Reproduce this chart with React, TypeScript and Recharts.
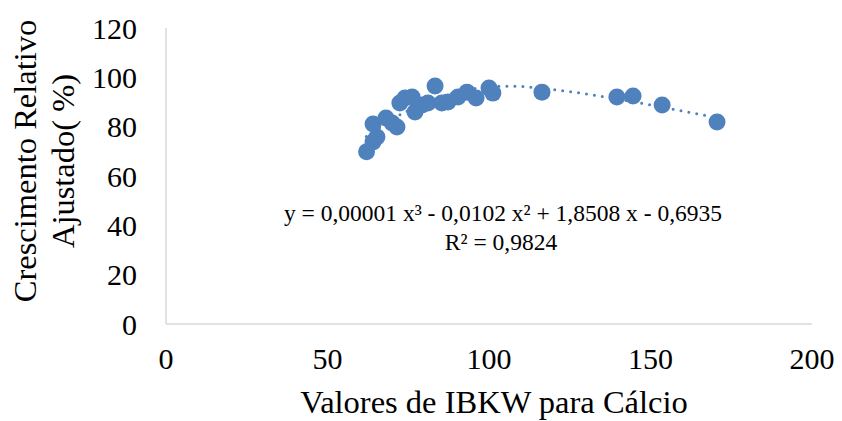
import { ComposedChart, Scatter, Line, XAxis, YAxis } from "recharts"

// observed points (IBKW x, crescimento relativo y)
const ibkw = [62.1, 64.1, 65.3, 64.1, 68.1, 70, 71.5, 72.4, 74, 76.2, 77.1, 79.3, 81.1, 83.3, 85.4, 87.3, 90.4, 93.2, 96, 100, 101.2, 116.4, 139.6, 144.6, 153.6, 170.6]
const crescimento = [69.8, 73.8, 75.8, 81.1, 83.5, 81.5, 79.9, 89.6, 91.6, 92, 85.9, 88.8, 89.6, 96.5, 89.6, 90, 92, 94, 91.6, 95.7, 93.6, 94, 92, 92.4, 88.8, 81.9]

// trend line
const trendX = [62, 66, 70, 75, 80, 85, 90, 95, 100, 105, 110, 115, 120, 130, 140, 150, 160, 170.6]
const trendY = [76, 79.5, 83, 86.5, 89.5, 92, 94, 95.3, 96.1, 96.4, 96.3, 95.7, 95, 93.3, 91.2, 88.8, 86.3, 83.6]

const xTicks = [0, 50, 100, 150, 200]
const yTicks = [0, 20, 40, 60, 80, 100, 120]

const points = ibkw.map((x, i) => ({ x, y: crescimento[i] }))
const trend = trendX.map((x, i) => ({ x, y: trendY[i] }))

const blue = "#4f81bd"
const font = "'Liberation Serif', 'Times New Roman', serif"
const tickStyle = { fontSize: 30, fill: "#000", fontFamily: font }
const titleStyle = { fontSize: 32.5, fill: "#000", fontFamily: font }
const eqStyle = { fontSize: 23.5, fill: "#000", fontFamily: font }

function Dot(props: any) {
  return <circle cx={props.cx} cy={props.cy} r={8.5} fill={blue} />
}

export default function App() {
  return (
    <div style={{ position: "absolute", left: 0, top: 0, background: "#fff" }}>
      <ComposedChart width={842} height={421} margin={{ top: 28, right: 30, bottom: 0, left: 0 }}>
        <XAxis
          type="number"
          dataKey="x"
          domain={[0, 200]}
          ticks={xTicks}
          height={97}
          tickLine={false}
          tickMargin={18}
          axisLine={{ stroke: "#d9d9d9", strokeWidth: 1.5 }}
          tick={tickStyle}
        />
        <YAxis
          type="number"
          dataKey="y"
          domain={[0, 120]}
          ticks={yTicks}
          width={166}
          tickLine={false}
          tickMargin={23}
          axisLine={{ stroke: "#d9d9d9", strokeWidth: 1.5 }}
          tick={tickStyle}
        />
        <Line
          data={trend}
          dataKey="y"
          type="monotone"
          stroke={blue}
          strokeWidth={3}
          strokeDasharray="0 8"
          strokeLinecap="round"
          dot={false}
          activeDot={false}
          isAnimationActive={false}
        />
        <Scatter data={points} dataKey="y" shape={Dot} isAnimationActive={false} />
        <text x={494} y={413} textAnchor="middle" style={titleStyle}>
          Valores de IBKW para Cálcio
        </text>
        <text transform="translate(25,161) rotate(-90)" textAnchor="middle" dominantBaseline="central" style={titleStyle}>
          Crescimento Relativo
        </text>
        <text transform="translate(63,161) rotate(-90)" textAnchor="middle" dominantBaseline="central" style={titleStyle}>
          Ajustado( %)
        </text>
        <text x={503} y={213} textAnchor="middle" dominantBaseline="central" style={eqStyle}>
          y = 0,00001 x³ - 0,0102 x² + 1,8508 x - 0,6935
        </text>
        <text x={501} y={242} textAnchor="middle" dominantBaseline="central" style={eqStyle}>
          R² = 0,9824
        </text>
      </ComposedChart>
    </div>
  )
}
